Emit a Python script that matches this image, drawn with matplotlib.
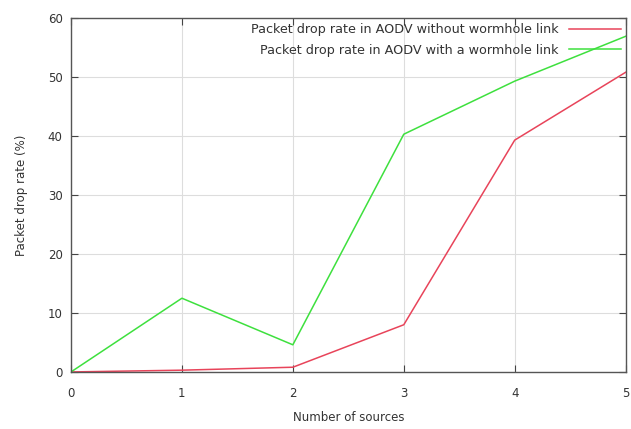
import matplotlib
matplotlib.use("Agg")
import matplotlib.pyplot as plt

sources = [0, 1, 2, 3, 4, 5]
drop_without = [0.0, 0.3, 0.8, 8.0, 39.3, 50.8]
drop_with = [0.0, 12.5, 4.6, 40.3, 49.3, 56.9]

label_without = "Packet drop rate in AODV without wormhole link"
label_with = "Packet drop rate in AODV with a wormhole link"

fig = plt.figure(figsize=(6.31, 4.29), dpi=100)
ax = fig.add_axes([0.1125, 0.133, 0.879, 0.825])

ax.plot(sources, drop_without, color='#e8445a', linewidth=1.1, label=label_without)
ax.plot(sources, drop_with, color='#3ee03e', linewidth=1.1, label=label_with)

ax.set_xlim(0, 5)
ax.set_ylim(0, 60)
ax.set_xticks(range(0, 6))
ax.set_yticks(range(0, 61, 10))
ax.tick_params(direction='in', top=True, right=True, labelsize=8.5, colors='#444444',
               length=5, width=0.8, labelcolor='#333333')
ax.tick_params(axis='x', pad=11)
ax.tick_params(axis='y', pad=6)
ax.grid(True, color='#dddddd', linewidth=0.8)
for s in ax.spines.values():
    s.set_color('#555555')
    s.set_linewidth(1.0)

ax.set_xlabel("Number of sources", fontsize=8.5, color='#333333', labelpad=8)
ax.set_ylabel("Packet drop rate (%)", fontsize=8.5, color='#333333', labelpad=14)

leg = ax.legend(loc='upper right', markerfirst=False, frameon=False, fontsize=9.2,
                handlelength=4.0, handletextpad=0.85, borderaxespad=0.1,
                labelspacing=0.6, borderpad=0.3)
for t in leg.get_texts():
    t.set_color('#333333')
    t.set_ha('right')
leg._legend_box.align = 'right'

fig.savefig("out.png", dpi=100)
